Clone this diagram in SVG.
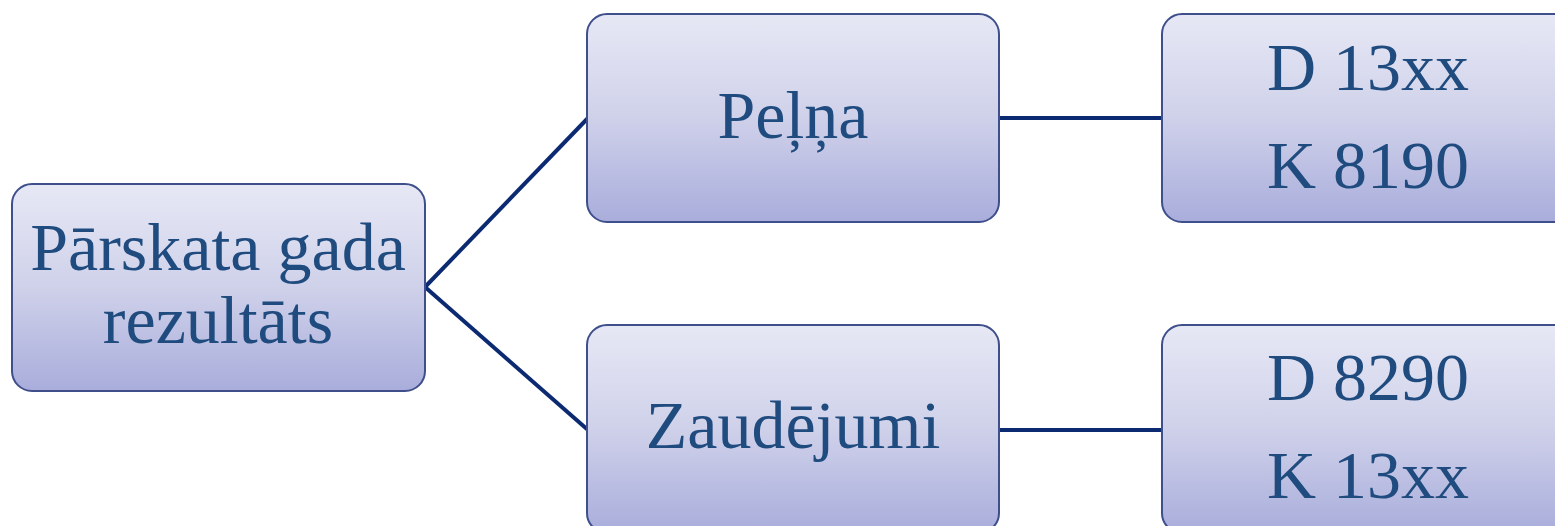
<svg xmlns="http://www.w3.org/2000/svg" width="1555" height="526" viewBox="0 0 1555 526">
<style>
.box{fill:url(#g);stroke:#3f4f8c;stroke-width:2}
.t{font-family:"Liberation Serif","Times New Roman",serif;font-size:68px;fill:#1f4b7f;text-anchor:middle}
.c{stroke:#0b2a72;stroke-width:4;fill:none}
</style>
<defs>
<linearGradient id="g" x1="0" y1="0" x2="0" y2="1">
<stop offset="0" stop-color="#e7e8f5"/>
<stop offset="0.5" stop-color="#cfd1ea"/>
<stop offset="1" stop-color="#a9addb"/>
</linearGradient>
</defs>
<rect width="1555" height="526" fill="#ffffff"/>
<g id="connectors">
<line class="c" x1="425" y1="287" x2="588" y2="118"/>
<line class="c" x1="425" y1="287" x2="588" y2="430"/>
<line class="c" x1="999" y1="118" x2="1162" y2="118"/>
<line class="c" x1="999" y1="430" x2="1162" y2="430"/>
</g>
<g id="n-root">
<rect class="box" x="12" y="184" width="413" height="207" rx="20"/>
<text class="t" x="218" y="270">Pārskata gada</text>
<text class="t" x="218" y="343">rezultāts</text>
</g>
<g id="n-pelna">
<rect class="box" x="587" y="14" width="412" height="208" rx="20"/>
<text class="t" x="793" y="138">Peļņa</text>
</g>
<g id="n-pelna-acc">
<rect class="box" x="1162" y="14" width="412" height="208" rx="20"/>
<text class="t" x="1368" y="90">D 13xx</text>
<text class="t" x="1368" y="188">K 8190</text>
</g>
<g id="n-zaud">
<rect class="box" x="587" y="325" width="412" height="208" rx="20"/>
<text class="t" x="793" y="448">Zaudējumi</text>
</g>
<g id="n-zaud-acc">
<rect class="box" x="1162" y="325" width="412" height="208" rx="20"/>
<text class="t" x="1368" y="400">D 8290</text>
<text class="t" x="1368" y="498">K 13xx</text>
</g>
</svg>
